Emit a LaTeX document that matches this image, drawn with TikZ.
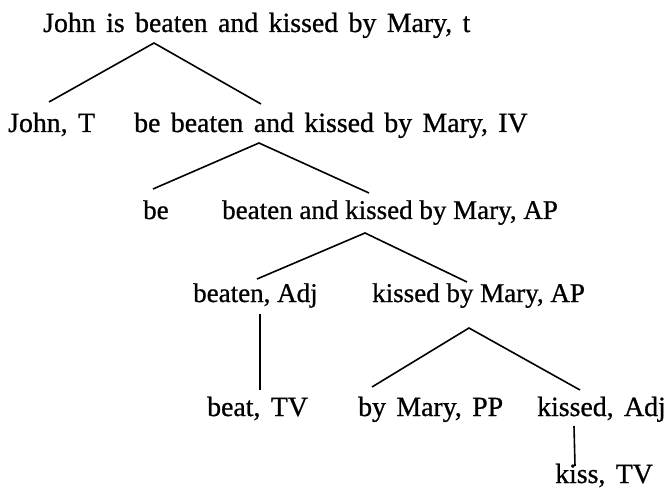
\documentclass[tikz,border=0pt]{standalone}
\usepackage{fontspec}
\setmainfont{Liberation Serif}[WordSpace=1.5,FakeBold=0.8]
\newfontfamily\tightserif{Liberation Serif}[FakeBold=0.8]
\begin{document}
\begin{tikzpicture}[x=1pt,y=-1pt,
  lbl/.style={anchor=base west, inner sep=0pt, font=\fontsize{27.8}{30}\selectfont},
  lbltight/.style={anchor=base west, inner sep=0pt, font=\tightserif\fontsize{27}{30}\selectfont},
  edge/.style={line width=1.6pt}]
\useasboundingbox (0,0) rectangle (667,497);
% nodes
\node[lbl]      (s)      at (43,32)   {John is beaten and kissed by Mary, t};
\node[lbl]      (johnT)  at (8,132)   {John, T};
\node[lbl]      (iv)     at (134,132) {be beaten and kissed by Mary, IV};
\node[lbltight] (be)     at (143,219) {be};
\node[lbltight] (ap1)    at (222,219) {beaten and kissed by Mary, AP};
\node[lbltight] (beaten) at (193,302) {beaten, Adj};
\node[lbltight] (ap2)    at (372,302) {kissed by Mary, AP};
\node[lbl]      (beat)   at (207,416) {beat, TV};
\node[lbl]      (pp)     at (358,416) {by Mary, PP};
\node[lbl]      (kadj)   at (537,416) {kissed, Adj};
\node[lbl]      (kiss)   at (555,483) {kiss, TV};
% connector points
\coordinate (s-a)      at (154,43);
\coordinate (johnT-e)  at (49,102);
\coordinate (iv-e)     at (261,104);
\coordinate (iv-a)     at (259,143);
\coordinate (be-e)     at (153,189);
\coordinate (ap1-e)    at (369,193);
\coordinate (ap1-a)    at (365,233);
\coordinate (beaten-e) at (257,279);
\coordinate (ap2-e)    at (467,282);
\coordinate (beaten-a) at (260,314);
\coordinate (beat-e)   at (260,390);
\coordinate (ap2-a)    at (469,328);
\coordinate (pp-e)     at (372,387);
\coordinate (kadj-e)   at (580,390);
\coordinate (kadj-a)   at (574,426);
\coordinate (kiss-e)   at (575,466);
% connectors
\draw[edge] (johnT-e) -- (s-a) -- (iv-e);
\draw[edge] (be-e) -- (iv-a) -- (ap1-e);
\draw[edge] (beaten-e) -- (ap1-a) -- (ap2-e);
\draw[edge] (beaten-a) -- (beat-e);
\draw[edge] (pp-e) -- (ap2-a) -- (kadj-e);
\draw[edge] (kadj-a) -- (kiss-e);
\end{tikzpicture}
\end{document}
